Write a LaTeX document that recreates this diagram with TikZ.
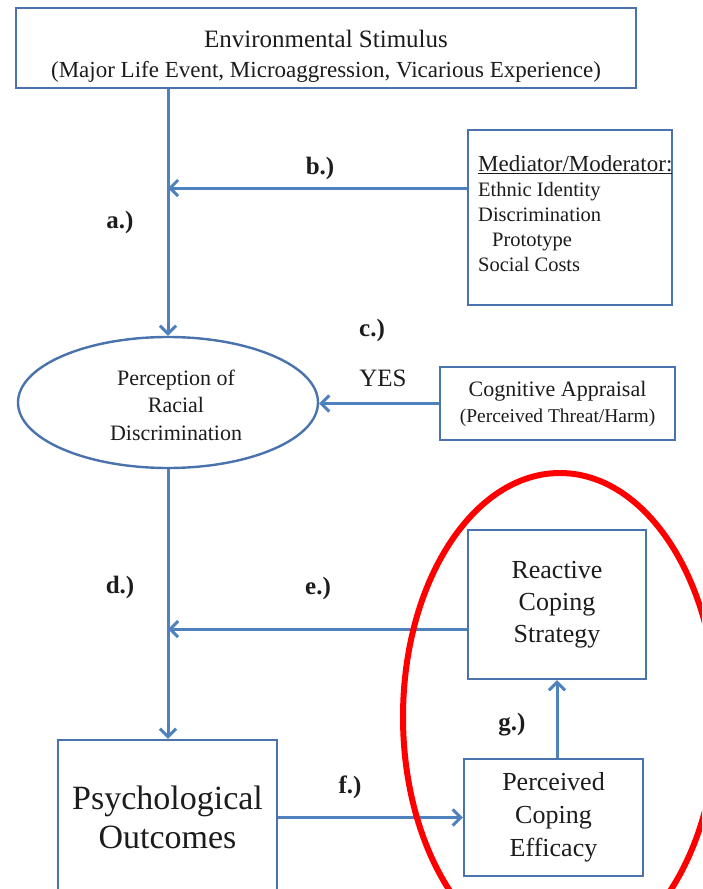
\documentclass[tikz,border=0pt]{standalone}
\usepackage{fontspec}
\setmainfont{Liberation Serif}
\usetikzlibrary{arrows.meta,shapes.geometric}

\definecolor{linkblue}{RGB}{79,129,189}
\definecolor{edgeblue}{RGB}{74,114,172}
\definecolor{inkgray}{RGB}{28,28,28}
\definecolor{ringred}{RGB}{255,0,0}

\tikzset{
  panel/.style={draw=edgeblue, line width=2.4pt, fill=white, inner sep=0pt, text=inkgray},
  oval/.style={panel, ellipse},
  link/.style={draw=linkblue, line width=3pt,
    -{Straight Barb[length=8pt,width=16pt]}},
  txt/.style={text=inkgray, inner sep=0pt},
  tag/.style={txt, font=\fontsize{25}{30}\selectfont\bfseries},
}

\begin{document}
\begin{tikzpicture}[x=1pt,y=-1pt]
\useasboundingbox (0,0) rectangle (702,889);
\clip (0,0) rectangle (702,889);
\fill[white] (0,0) rectangle (702,889);

% boxes and ellipse
\node[panel, minimum width=620pt, minimum height=80pt] (top) at (326,48) {};
\node[txt, align=center, font=\fontsize{25}{30}\selectfont] (top-text) at (326,56)
  {Environmental Stimulus\\{\fontsize{23}{30}\selectfont (Major Life Event, Microaggression, Vicarious Experience)}};

\node[panel, minimum width=204pt, minimum height=175pt] (med) at (570,217.5) {};
\node[txt, align=left, anchor=west, font=\fontsize{20.5}{25}\selectfont] (med-text) at (478,214)
  {{\fontsize{23}{25}\selectfont\underline{Mediator/Moderator:}}\\Ethnic Identity\\Discrimination\\\hspace{14pt}Prototype\\Social Costs};

\node[oval, minimum width=300pt, minimum height=131pt] (ell) at (168,402.5) {};
\node[txt, align=center, font=\fontsize{22}{27.5}\selectfont] (ell-text) at (176,405)
  {Perception of\\Racial\\Discrimination};

\node[panel, minimum width=235pt, minimum height=73pt, align=center,
      font=\fontsize{22}{26}\selectfont] (cog) at (557.5,403.5)
  {Cognitive Appraisal\\{\fontsize{19.5}{26}\selectfont (Perceived Threat/Harm)}};

\node[panel, minimum width=178pt, minimum height=149pt, align=center,
      font=\fontsize{26}{32}\selectfont] (rea) at (557,604.5)
  {Reactive\\Coping\\Strategy};

\node[panel, minimum width=179pt, minimum height=117pt, align=center,
      font=\fontsize{26}{33}\selectfont] (per) at (553.5,817.5)
  {Perceived\\Coping\\Efficacy};

\node[panel, minimum width=219pt, minimum height=154pt, align=center,
      font=\fontsize{34}{39}\selectfont] (psy) at (167.5,817)
  {Psychological\\Outcomes};

% connectors
\coordinate (bmeet) at (168,188);
\coordinate (emeet) at (168,629);
\draw[link] (top.south -| ell.north) -- (ell.north);
\draw[link] (med.west |- bmeet) -- (bmeet);
\draw[link] (cog.west) -- (cog.west -| ell.east);
\draw[link] (ell.south) -- (ell.south |- psy.north);
\draw[link] (rea.west |- emeet) -- (emeet);
\draw[link] (psy.east |- per.west) -- (per.west);
\draw[link] (rea.south |- per.north) -- (rea.south);

% path labels
\node[tag] (la) at (120,222) {a.)};
\node[tag] (lb) at (320,168) {b.)};
\node[tag] (lc) at (372,330) {c.)};
\node[txt, font=\fontsize{25}{30}\selectfont] (lyes) at (383,378) {YES};
\node[tag] (ld) at (120,587) {d.)};
\node[tag] (le) at (318,588) {e.)};
\node[tag] (lf) at (350,787) {f.)};
\node[tag] (lg) at (512,725) {g.)};

% red ring around the coping boxes
\draw[ringred, line width=6pt] (560,717) ellipse [x radius=157, y radius=244];
\end{tikzpicture}
\end{document}
